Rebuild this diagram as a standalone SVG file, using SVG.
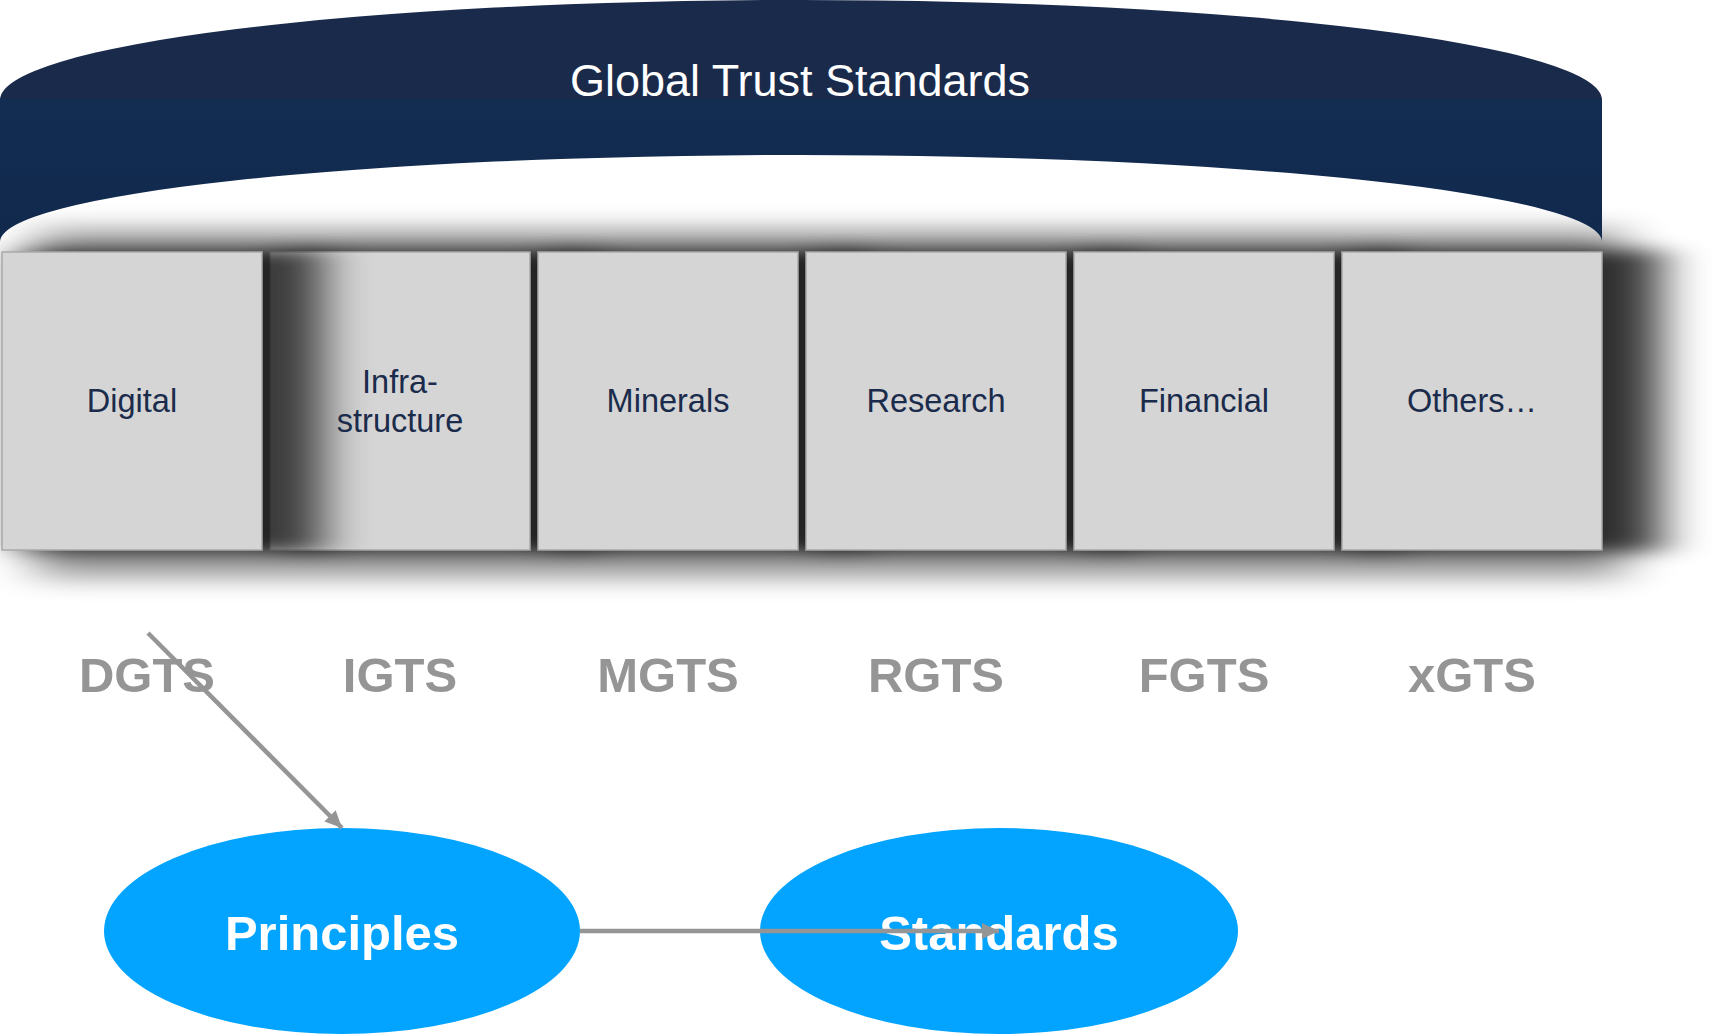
<svg xmlns="http://www.w3.org/2000/svg" width="1712" height="1034" viewBox="0 0 1712 1034">
<style>
.box{fill:#d5d5d5;stroke:#a9a9a9;stroke-width:1.5}
.bt{font-family:"Liberation Sans",Arial,sans-serif;font-size:32.5px;fill:#1a2b4b;text-anchor:middle}
.lab{font-family:"Liberation Sans",Arial,sans-serif;font-size:49px;font-weight:bold;fill:#959595;text-anchor:middle}
.ell{fill:#02a4ff}
.et{font-family:"Liberation Sans",Arial,sans-serif;font-size:49px;font-weight:bold;fill:#ffffff;text-anchor:middle}
.conn{stroke:#959595;stroke-width:4.5;fill:none;marker-end:url(#ah)}
.sh{fill:#000;opacity:0.72;filter:url(#bs)}
</style>
<defs>
<linearGradient id="ag" x1="0" y1="0" x2="0" y2="1">
<stop offset="0" stop-color="#1a2a4b"/>
<stop offset="0.41" stop-color="#1a2a4b"/>
<stop offset="0.41" stop-color="#132c51"/>
<stop offset="1" stop-color="#10294d"/>
</linearGradient>
<filter id="halo" x="-100" y="100" width="1900" height="600" filterUnits="userSpaceOnUse">
<feGaussianBlur stdDeviation="26 12"/>
</filter>
<filter id="bs" x="-100" y="150" width="1900" height="500" filterUnits="userSpaceOnUse">
<feGaussianBlur stdDeviation="24 8"/>
</filter>
<marker id="ah" markerUnits="userSpaceOnUse" markerWidth="20" markerHeight="18" refX="17" refY="8" orient="auto">
<path d="M0,0 L17,8 L0,16 Z" fill="#959595"/>
</marker>
</defs>
<rect width="1712" height="1034" fill="#ffffff"/>

<g id="shadow">
<rect x="35" y="230" width="1590" height="347" fill="#000" opacity="0.42" filter="url(#halo)"/>
<rect class="sh" x="290" y="250" width="300" height="302"/>
<rect class="sh" x="558" y="250" width="300" height="302"/>
<rect class="sh" x="826" y="250" width="300" height="302"/>
<rect class="sh" x="1094" y="250" width="300" height="302"/>
<rect class="sh" x="1362" y="250" width="300" height="302" opacity="0.62"/>
</g>

<g id="arch">
<path d="M0,100 A801,100 0 0 1 1602,100 L1602,242 A801,87 0 0 0 0,242 Z" fill="url(#ag)"/>
<text x="800" y="96" font-family="Liberation Sans, Arial, sans-serif" font-size="45" fill="#ffffff" text-anchor="middle">Global Trust Standards</text>
</g>

<g id="infra"><rect class="box" x="270" y="252" width="260" height="298"/></g>
<g id="minerals"><rect class="box" x="538" y="252" width="260" height="298"/><text class="bt" x="668" y="412">Minerals</text></g>
<g id="research"><rect class="box" x="806" y="252" width="260" height="298"/><text class="bt" x="936" y="412">Research</text></g>
<g id="financial"><rect class="box" x="1074" y="252" width="260" height="298"/><text class="bt" x="1204" y="412">Financial</text></g>
<g id="others"><rect class="box" x="1342" y="252" width="260" height="298"/><text class="bt" x="1472" y="412">Others…</text></g>
<rect class="sh" x="22" y="250" width="300" height="302"/>
<g id="digital"><rect class="box" x="2" y="252" width="260" height="298"/><text class="bt" x="132" y="412">Digital</text></g>
<text class="bt" x="400" y="393">Infra-</text>
<text class="bt" x="400" y="432">structure</text>

<g id="labels">
<text class="lab" x="147" y="692">DGTS</text>
<text class="lab" x="400" y="692">IGTS</text>
<text class="lab" x="668" y="692">MGTS</text>
<text class="lab" x="936" y="692">RGTS</text>
<text class="lab" x="1204" y="692">FGTS</text>
<text class="lab" x="1472" y="692">xGTS</text>
</g>

<g id="principles"><ellipse class="ell" cx="342" cy="931" rx="238" ry="103"/><text class="et" x="342" y="950">Principles</text></g>
<g id="standards"><ellipse class="ell" cx="999" cy="931" rx="239" ry="103"/><text class="et" x="999" y="950">Standards</text></g>

<g id="connectors">
<line class="conn" x1="148" y1="633" x2="342" y2="828"/>
<line class="conn" x1="580" y1="931" x2="999" y2="931"/>
</g>
</svg>
